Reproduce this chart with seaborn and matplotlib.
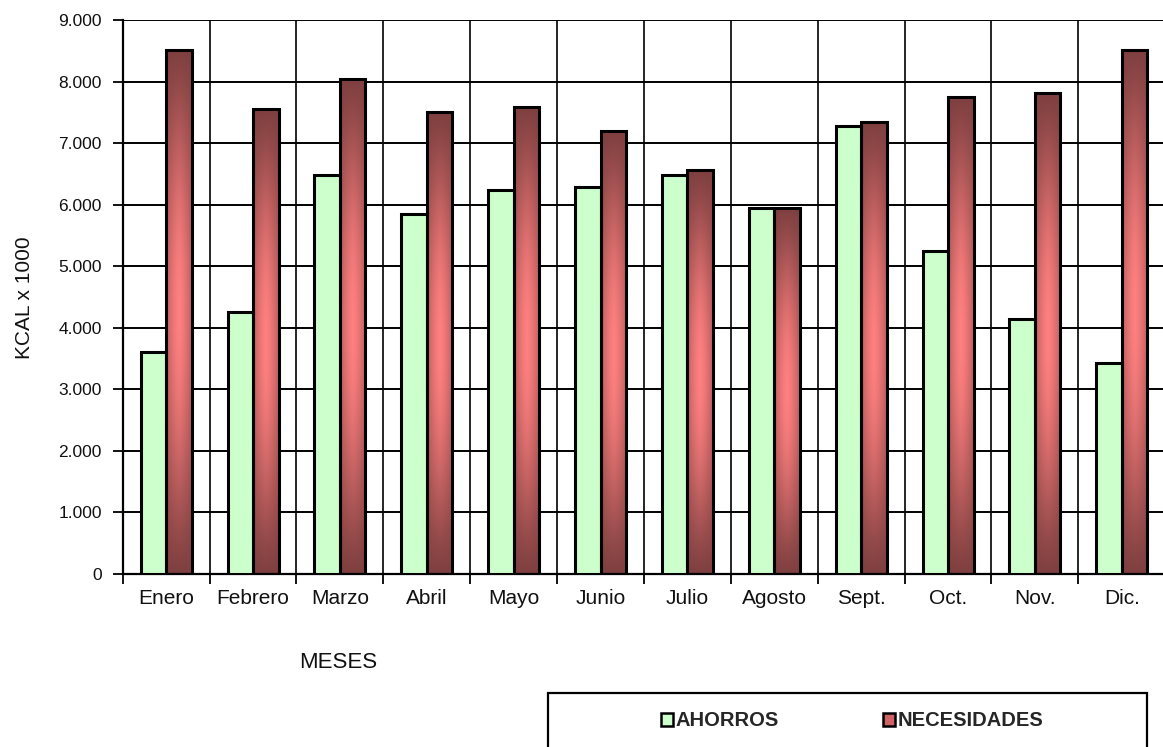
import numpy as np
import pandas as pd
import matplotlib
matplotlib.use("Agg")
import matplotlib.pyplot as plt
import matplotlib.ticker as mticker
from matplotlib.patches import Patch, Rectangle
import seaborn as sns

meses = ["Enero", "Febrero", "Marzo", "Abril", "Mayo", "Junio", "Julio",
         "Agosto", "Sept.", "Oct.", "Nov.", "Dic."]
ahorros = [3600, 4260, 6490, 5850, 6240, 6290, 6490, 5950, 7280, 5240, 4140, 3430]
necesidades = [8520, 7550, 8040, 7510, 7590, 7200, 6560, 5950, 7350, 7750, 7810, 8520]
series = ["AHORROS", "NECESIDADES"]
yticks = [0, 1000, 2000, 3000, 4000, 5000, 6000, 7000, 8000, 9000]

sns.set_theme(style="white")
plt.rcParams["font.family"] = ["Liberation Sans", "DejaVu Sans"]

df = pd.DataFrame({
    "mes": meses * 2,
    "serie": [series[0]] * len(meses) + [series[1]] * len(meses),
    "valor": ahorros + necesidades,
})

W, H = 1163, 747
fig = plt.figure(figsize=(W / 100, H / 100), dpi=100)
ax = fig.add_axes([122.7 / W, 1 - 574 / H, (1165.2 - 122.7) / W, (574 - 20) / H])

green = "#CCFFCC"
dark = np.array([0x80, 0x40, 0x40]) / 255
light = np.array([0xFF, 0x80, 0x80]) / 255

sns.barplot(data=df, x="mes", y="valor", hue="serie", order=meses,
            hue_order=series, palette={series[0]: green, series[1]: "#C06060"},
            width=0.587, gap=0, edgecolor="black", linewidth=2.2,
            saturation=1, legend=False, ax=ax)

# gradient fill for NECESIDADES bars
ny, nx = 200, 40
s = np.linspace(0, 1, ny)[:, None]
u = np.linspace(0, 1, nx)[None, :]
ty = np.sin(np.pi * s) ** 1.2
hx = 0.5 + 0.5 * (1 - np.abs(2 * u - 1) ** 1.4)
t = (ty * hx)[:, :, None]
grad = dark + (light - dark) * t
for p in ax.containers[1]:
    x0 = p.get_x()
    w = p.get_width()
    h = p.get_height()
    im = ax.imshow(grad, extent=(x0, x0 + w, 0, h), origin="upper",
                   aspect="auto", zorder=2, interpolation="bilinear")
    im.set_clip_path(p)
    p.set_facecolor("none")
    p.set_zorder(3)
for p in ax.containers[0]:
    p.set_zorder(3)
ax.set_xlim(-0.5, len(meses) - 0.5)
ax.set_ylim(0, 9000)

# axes styling
ax.set_yticks(yticks)
ax.yaxis.set_major_formatter(mticker.FuncFormatter(
    lambda v, pos: f"{int(v):,}".replace(",", ".")))
ax.set_xticks(range(len(meses)))
ax.set_xticklabels(meses, fontsize=15, color="#111111")
ax.set_xticks(np.arange(-0.5, len(meses), 1.0), minor=True)
ax.tick_params(axis="x", which="major", length=0, pad=11)
ax.tick_params(axis="x", which="minor", length=7, width=1.3, color="black",
               direction="out", bottom=True)
ax.tick_params(axis="y", which="major", length=7, width=1.3, color="black",
               direction="out", left=True, labelsize=12.5, labelcolor="#111111", pad=8)
ax.grid(True, axis="y", which="major", color="black", linewidth=1.4, zorder=0)
ax.grid(True, axis="x", which="minor", color="black", linewidth=1.2, zorder=0)
ax.set_axisbelow(True)
for side in ["top", "right"]:
    ax.spines[side].set_visible(False)
for side in ["left", "bottom"]:
    ax.spines[side].set_color("black")
    ax.spines[side].set_linewidth(1.6)
ax.set_xlabel("")
ax.set_ylabel("")

fig.text(25 / W, 1 - 298 / H, "KCAL x 1000", rotation=90, ha="center",
         va="center", fontsize=15, color="#111111")
fig.text(338 / W, 1 - 663 / H, "MESES", ha="center", va="center",
         fontsize=16, color="#111111")

# legend box (bottom edge lies outside the figure, as in the reference)
fig.patches.append(Rectangle((548 / W, -0.05), (1147 - 548) / W, 1 - 693 / H + 0.05,
                             transform=fig.transFigure, fill=False,
                             edgecolor="black", linewidth=1.6, clip_on=False))
handles = [Patch(facecolor=green, edgecolor="black", linewidth=1.8),
           Patch(facecolor="#D06464", edgecolor="black", linewidth=1.8)]
fig.legend(handles, series, loc="center", bbox_to_anchor=(852 / W, 1 - 721 / H),
           ncol=2, frameon=False, handlelength=0.6, handleheight=0.6,
           handletextpad=0.12, columnspacing=5.2,
           prop={"weight": "bold", "size": 14.5})

fig.savefig("out.png", dpi=100)
